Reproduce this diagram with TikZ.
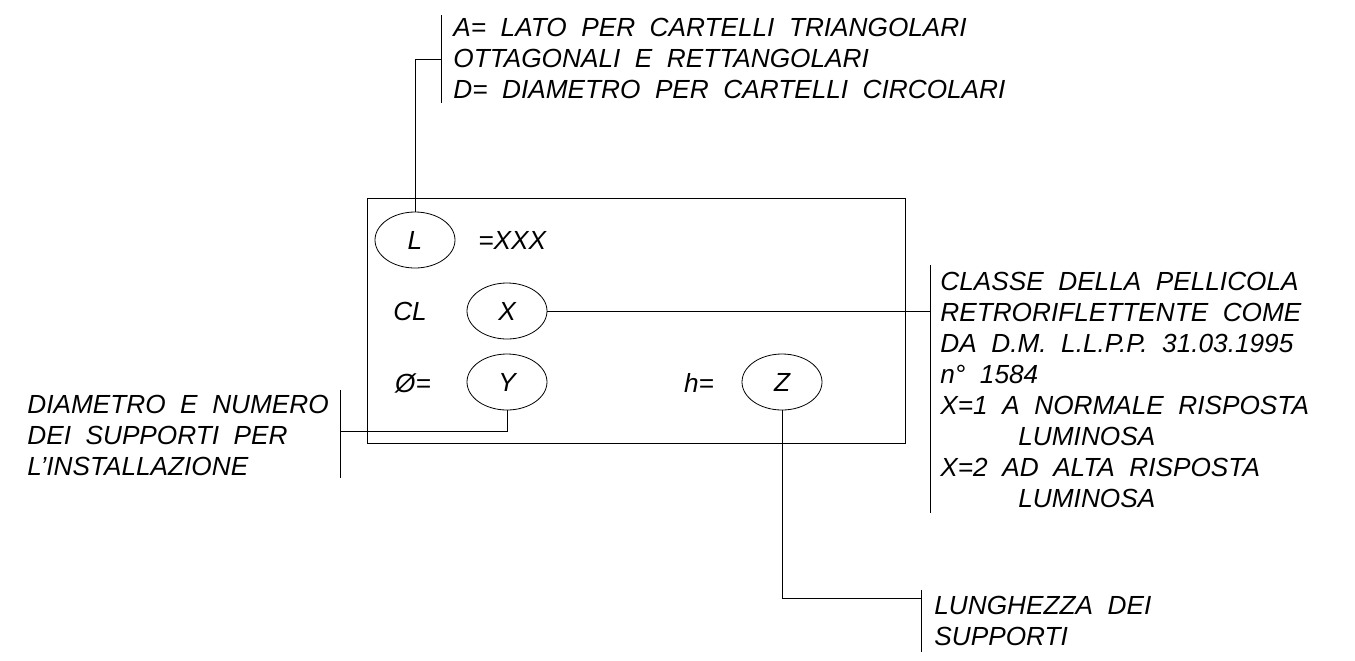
\documentclass[tikz,border=0pt]{standalone}
\usepackage{fontspec}
\newfontfamily\cadfont{Liberation Sans}[WordSpace=2]
\usetikzlibrary{shapes.geometric}

\begin{document}
\begin{tikzpicture}[x=0.5pt,y=-0.5pt,
  every node/.style={font=\cadfont\itshape\fontsize{13.1}{15.5}\selectfont, inner sep=0pt}]
\tikzstyle{tag} = [ellipse, draw, thin, minimum width=40pt, minimum height=28pt]
\tikzstyle{note} = [align=left, anchor=west]
\tikzstyle{line} = [draw, thin]
\useasboundingbox (0,0) rectangle (1355,660);

% plate
\node [draw, thin, minimum width=269pt, minimum height=122.5pt] (plate) at (636,320.5) {};
\node [tag] (L) at (415,240) {L};
\node [anchor=west] (xxx) at (478,240) {=XXX};
\node (cl) at (410,311) {CL};
\node [tag] (X) at (507,311) {X};
\node (phi) at (413,383) {Ø=};
\node [tag] (Y) at (507,382) {Y};
\node (heq) at (699,383) {h=};
\node [tag] (Z) at (782,382) {Z};

% notes
\node [note] (size) at (453,58) {A= LATO PER CARTELLI TRIANGOLARI\\
OTTAGONALI E RETTANGOLARI\\
D= DIAMETRO PER CARTELLI CIRCOLARI};
\node [note] (class) at (940,390) {CLASSE DELLA PELLICOLA\\
RETRORIFLETTENTE COME\\
DA D.M. L.L.P.P. 31.03.1995\\
n° 1584\\
X=1 A NORMALE RISPOSTA\\
\hspace*{39pt}LUMINOSA\\
X=2 AD ALTA RISPOSTA\\
\hspace*{39pt}LUMINOSA};
\node [note] (posts) at (27,435) {DIAMETRO E NUMERO\\
DEI SUPPORTI PER\\
L’INSTALLAZIONE};
\node [note] (length) at (934,621) {LUNGHEZZA DEI\\
SUPPORTI};

% leader ends
\coordinate (sizetop) at (441,15);
\coordinate (sizemid) at (441,59);
\coordinate (sizebot) at (441,103);
\coordinate (classtop) at (930,265);
\coordinate (classmid) at (930,311);
\coordinate (classbot) at (930,513);
\coordinate (poststop) at (340,390);
\coordinate (postsmid) at (340,431);
\coordinate (postsbot) at (340,478);
\coordinate (lengthtop) at (921,590);
\coordinate (lengthmid) at (921,598);
\coordinate (lengthbot) at (921,652);

\tikzstyle{every path}=[line]
\path (sizetop) -- (sizebot);
\path (L.north) |- (sizemid);
\path (classtop) -- (classbot);
\path (X.east) -- (classmid);
\path (poststop) -- (postsbot);
\path (Y.south) |- (postsmid);
\path (lengthtop) -- (lengthbot);
\path (Z.south) |- (lengthmid);
\end{tikzpicture}
\end{document}
